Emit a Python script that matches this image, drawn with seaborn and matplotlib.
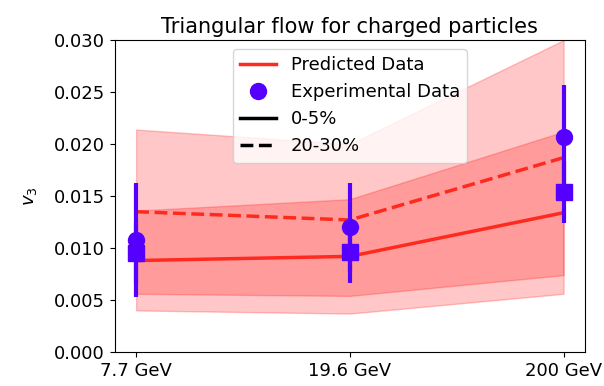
import matplotlib
matplotlib.use("Agg")
import matplotlib.pyplot as plt
from matplotlib.lines import Line2D
import numpy as np
import pandas as pd
import seaborn as sns

# Collision energies
energies = ["7.7 GeV", "19.6 GeV", "200 GeV"]

# Model predictions of v3 with uncertainty (half-width of band)
pred_central = [0.0088, 0.0092, 0.0134]
pred_central_err = [0.0048, 0.0055, 0.0078]
pred_mid = [0.0135, 0.0127, 0.0187]
pred_mid_err = [0.0079, 0.0073, 0.0113]

# Measured v3 with errors
exp_central = [0.0095, 0.0096, 0.0154]
exp_central_err = [0.0030, 0.0030, 0.0030]
exp_mid = [0.0108, 0.0120, 0.0207]
exp_mid_err = [0.0055, 0.0043, 0.0050]

RED = "#ff2a1f"
BAND = "red"
BLUE = "#5500ff"

plt.rcParams["font.size"] = 13

fig = plt.figure(figsize=(6.04, 3.86), dpi=100)
ax = fig.add_axes([0.190, 0.088, 0.7785, 0.808])

pos = np.arange(len(energies))
df = pd.DataFrame({
    "pos": np.concatenate([pos, pos]),
    "v3": pred_central + pred_mid,
    "centrality": ["0-5%"] * 3 + ["20-30%"] * 3,
})

for vals, errs in [(pred_central, pred_central_err), (pred_mid, pred_mid_err)]:
    v = np.array(vals)
    e = np.array(errs)
    ax.fill_between(pos, v - e, v + e, color=BAND, alpha=0.22)

sns.lineplot(data=df, x="pos", y="v3", style="centrality",
             dashes={"0-5%": "", "20-30%": (3.7, 1.6)},
             color=RED, linewidth=2.5, legend=False, ax=ax)

ax.errorbar(pos, exp_mid, yerr=exp_mid_err, fmt="o", color=BLUE,
            markersize=11.5, elinewidth=3, capsize=0, zorder=5)
ax.errorbar(pos, exp_central, yerr=exp_central_err, fmt="s", color=BLUE,
            markersize=11.5, elinewidth=3, capsize=0, zorder=5)

ax.set_xticks(pos)
ax.set_xticklabels(energies)
ax.set_xlim(-0.1, 2.1)
ax.set_ylim(0, 0.030)
ax.set_yticks(np.arange(0, 0.0301, 0.005))
ax.yaxis.set_major_formatter(matplotlib.ticker.FormatStrFormatter("%.3f"))
ax.set_xlabel("")
ax.set_ylabel("$v_3$", labelpad=11)
ax.set_title("Triangular flow for charged particles", fontsize=15, pad=5)

handles = [
    Line2D([], [], color=RED, linewidth=2.5),
    Line2D([], [], color=BLUE, marker="o", linestyle="", markersize=11.5),
    Line2D([], [], color="black", linewidth=2.5),
    Line2D([], [], color="black", linewidth=2.5, linestyle="--"),
]
labels = ["Predicted Data", "Experimental Data", "0-5%", "20-30%"]
ax.legend(handles, labels, loc="upper center")

fig.savefig("out.png", dpi=100)
